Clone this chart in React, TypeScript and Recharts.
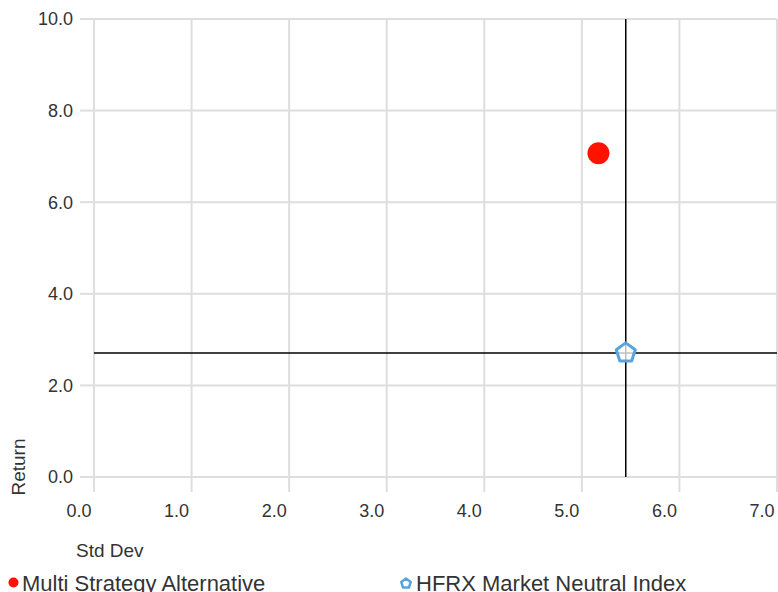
import {
  ScatterChart,
  Scatter,
  XAxis,
  YAxis,
  CartesianGrid,
  ReferenceLine,
} from 'recharts'

const multiStrategy = [{ stdDev: 5.17, ret: 7.07 }]
const hfrxIndex = [{ stdDev: 5.45, ret: 2.71 }]
const xTicks = [0, 1, 2, 3, 4, 5, 6, 7]
const yTicks = [0, 2, 4, 6, 8, 10]

const FONT = '"Liberation Sans", Arial, sans-serif'
const GRID = '#dedede'
const TEXT = '#333'
const RED = '#ff1200'
const BLUE = '#5ba3dc'

function pentagonPoints(cx: number, cy: number, r: number) {
  const pts: string[] = []
  for (let i = 0; i < 5; i++) {
    const a = -Math.PI / 2 + (i * 2 * Math.PI) / 5
    pts.push(`${cx + r * Math.cos(a)},${cy + r * Math.sin(a)}`)
  }
  return pts.join(' ')
}

const RedDot = (props: any) => <circle cx={props.cx} cy={props.cy} r={11} fill={RED} />

const Pentagon = (props: any) => (
  <polygon
    points={pentagonPoints(props.cx, props.cy, 10)}
    fill="rgba(255,255,255,0.75)"
    stroke={BLUE}
    strokeWidth={3}
    strokeLinejoin="round"
  />
)

export default function App() {
  const hx = hfrxIndex[0].stdDev
  const hy = hfrxIndex[0].ret
  return (
    <div style={{ position: 'absolute', left: 0, top: 0, width: 778, height: 592, fontFamily: FONT, overflow: 'hidden' }}>
      <ScatterChart width={778} height={592} margin={{ top: 19, right: 1, bottom: 0, left: 0 }}>
        <CartesianGrid stroke={GRID} strokeWidth={2} />
        <XAxis
          type="number"
          dataKey="stdDev"
          domain={[0, 7]}
          ticks={xTicks}
          tickFormatter={(v: number) => v.toFixed(1)}
          axisLine={false}
          tickLine={{ stroke: GRID, strokeWidth: 2 }}
          tickSize={15}
          tickMargin={12}
          height={115}
          tick={{ fontSize: 18, fill: TEXT, fontFamily: FONT, dx: -15 }}
          interval={0}
        />
        <YAxis
          type="number"
          dataKey="ret"
          domain={[0, 10]}
          ticks={yTicks}
          tickFormatter={(v: number) => v.toFixed(1)}
          axisLine={false}
          tickLine={{ stroke: GRID, strokeWidth: 2 }}
          tickSize={14}
          tickMargin={7}
          width={94}
          tick={{ fontSize: 18, fill: TEXT, fontFamily: FONT }}
          interval={0}
        />
        <ReferenceLine x={hx} stroke="#000" strokeWidth={1.5} />
        <ReferenceLine y={hy} stroke="#000" strokeWidth={1.5} />
        <Scatter name="Multi Strategy Alternative" data={multiStrategy} shape={RedDot} isAnimationActive={false} />
        <Scatter name="HFRX Market Neutral Index" data={hfrxIndex} shape={Pentagon} isAnimationActive={false} />
      </ScatterChart>

      <div
        style={{
          position: 'absolute',
          left: 18,
          top: 467,
          transform: 'translate(-50%, -50%) rotate(-90deg)',
          fontSize: 19,
          color: TEXT,
          whiteSpace: 'nowrap',
          lineHeight: 1,
        }}
      >
        Return
      </div>
      <div style={{ position: 'absolute', left: 76, top: 541, fontSize: 19, color: TEXT, lineHeight: 1, whiteSpace: 'nowrap' }}>
        Std Dev
      </div>

      <div style={{ position: 'absolute', left: 0, top: 572, width: 778, height: 24, fontSize: 22, color: TEXT, lineHeight: '24px', whiteSpace: 'nowrap' }}>
        <svg width={12} height={12} style={{ position: 'absolute', left: 8, top: 5 }}>
          <circle cx={5.5} cy={5.5} r={5} fill={RED} />
        </svg>
        <span style={{ position: 'absolute', left: 22, top: 0 }}>Multi Strategy Alternative</span>
        <svg width={14} height={14} style={{ position: 'absolute', left: 399, top: 4 }}>
          <polygon points={pentagonPoints(7, 7.5, 5)} fill="#fff" stroke={BLUE} strokeWidth={2.5} strokeLinejoin="round" />
        </svg>
        <span style={{ position: 'absolute', left: 416, top: 0 }}>HFRX Market Neutral Index</span>
      </div>
    </div>
  )
}
